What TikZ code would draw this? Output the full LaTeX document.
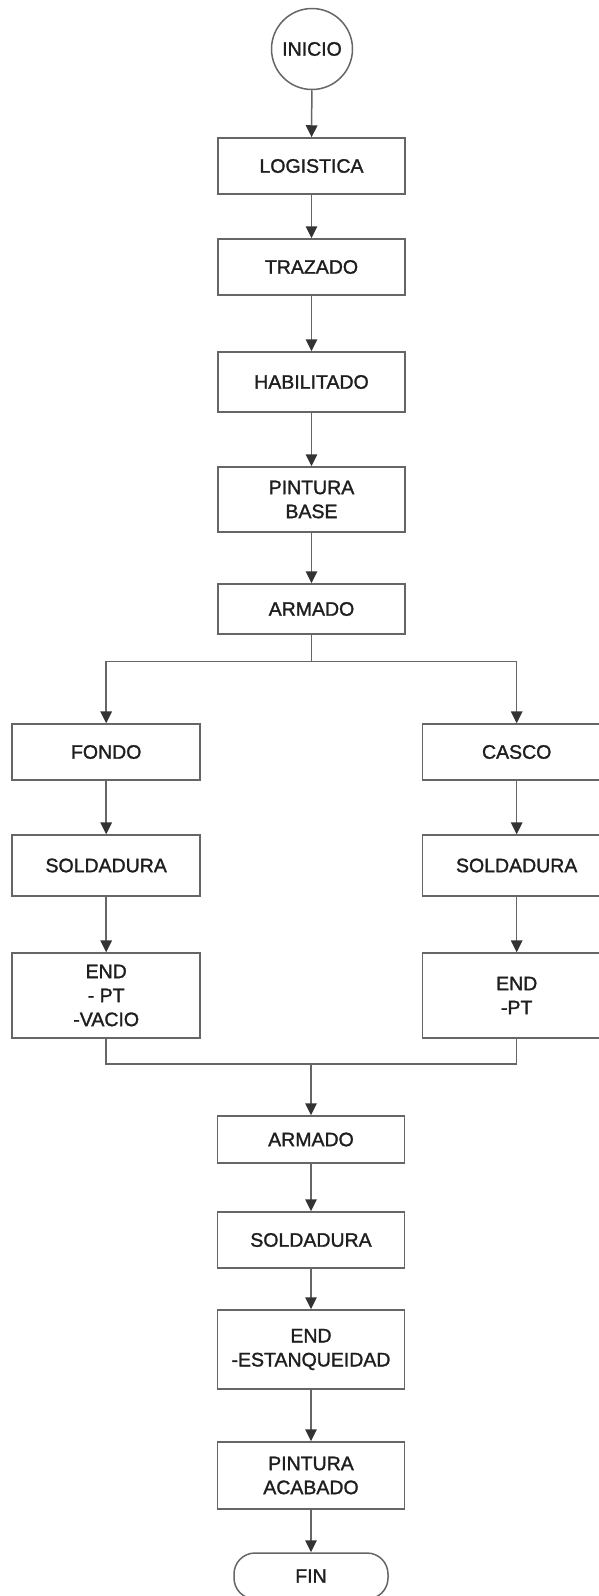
\documentclass[tikz,border=0pt]{standalone}
\usepackage{fontspec}
\setmainfont{Liberation Sans}[FakeBold=1.2]
\newfontfamily\heavyfont{Liberation Sans}[FakeBold=1.4]
\usetikzlibrary{arrows.meta}
\definecolor{linegray}{HTML}{666666}
\definecolor{tipgray}{HTML}{333333}
\definecolor{txt}{HTML}{1E1E1E}
\begin{document}
\begin{tikzpicture}[x=1pt,y=-1pt,
  box/.style={draw=linegray, line width=1.5pt, rectangle, minimum width=187pt,
    inner sep=0pt, align=center, font=\heavyfont\fontsize{19.5}{24}\selectfont, text=txt},
  sidebox/.style={box, minimum width=188pt},
  term/.style={draw=linegray, line width=1.5pt, circle, minimum size=81pt, inner sep=0pt,
    font=\heavyfont\fontsize{19.5}{24}\selectfont, text=txt},
  endterm/.style={draw=linegray, line width=1.5pt, rectangle, rounded corners=21pt,
    minimum width=154pt, minimum height=46pt, inner sep=0pt,
    font=\heavyfont\fontsize{19.5}{24}\selectfont, text=txt},
  conn/.style={draw=linegray, line width=1.5pt},
  arr/.style={conn, -{Triangle[length=12pt,width=11.5pt,fill=tipgray,color=tipgray]}}
]
\useasboundingbox (0,0) rectangle (599,1596);
\fill[white] (0,0) rectangle (599,1596);

\node[term] (inicio) at (312,49) {INICIO};
\node[box, minimum height=56pt] (log) at (311.5,166) {LOGISTICA};
\node[box, minimum height=56pt] (traz) at (311.5,267) {TRAZADO};
\node[box, minimum height=60pt] (hab) at (311.5,382) {HABILITADO};
\node[box, minimum height=65pt] (pbase) at (311.5,499.5) {PINTURA\\BASE};
\node[box, minimum height=50pt] (arm) at (311.5,609) {ARMADO};

\node[sidebox, minimum height=56pt] (fondo) at (106.2,752) {FONDO};
\node[sidebox, minimum height=56pt] (casco) at (516.7,752) {CASCO};
\node[sidebox, minimum height=61pt] (sold1) at (106.2,865.5) {SOLDADURA};
\node[sidebox, minimum height=61pt] (sold2) at (516.7,865.5) {SOLDADURA};
\node[sidebox, minimum height=85pt] (end1) at (106.2,995.5) {END\\- PT\\-VACIO};
\node[sidebox, minimum height=85pt] (end2) at (516.7,995.5) {END\\-PT};

\node[box, minimum height=47pt] (arm2) at (311,1139.5) {ARMADO};
\node[box, minimum height=56pt] (sold3) at (311,1240) {SOLDADURA};
\node[box, minimum height=79pt] (endest) at (311,1349.5) {END\\-ESTANQUEIDAD};
\node[box, minimum height=67pt] (pacab) at (311,1475.5) {PINTURA\\ACABADO};
\node[endterm] (fin) at (311,1576) {FIN};

\coordinate (split) at (311.5,661.5);
\coordinate (join) at (311,1064);

\draw[arr] (inicio) -- (log);
\draw[arr] (log) -- (traz);
\draw[arr] (traz) -- (hab);
\draw[arr] (hab) -- (pbase);
\draw[arr] (pbase) -- (arm);
\draw[conn] (arm) -- (split);
\draw[arr] (split) -| (fondo);
\draw[arr] (split) -| (casco);
\draw[arr] (fondo) -- (sold1);
\draw[arr] (casco) -- (sold2);
\draw[arr] (sold1) -- (end1);
\draw[arr] (sold2) -- (end2);
\draw[conn] (end1) |- (join);
\draw[conn] (end2) |- (join);
\draw[arr] (join) -- (arm2);
\draw[arr] (arm2) -- (sold3);
\draw[arr] (sold3) -- (endest);
\draw[arr] (endest) -- (pacab);
\draw[arr] (pacab) -- (fin);
\end{tikzpicture}
\end{document}
